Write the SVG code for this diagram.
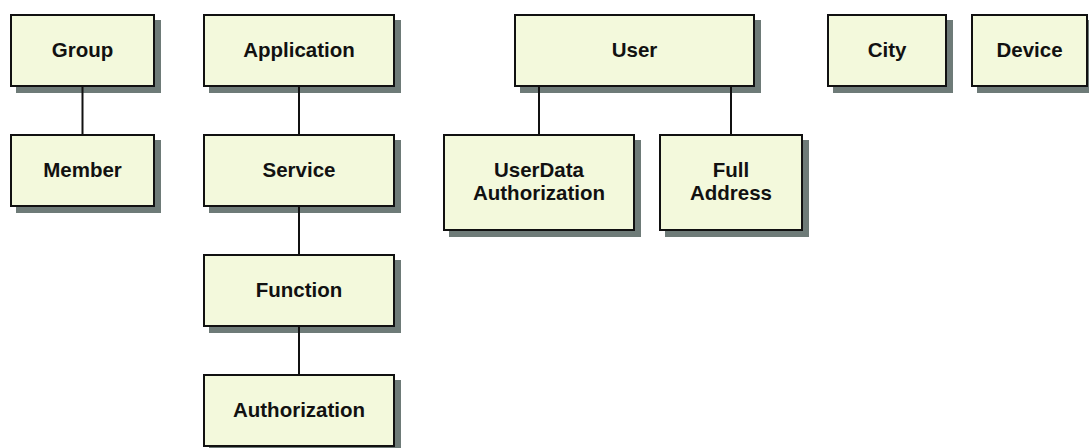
<svg xmlns="http://www.w3.org/2000/svg" width="1089" height="448" viewBox="0 0 1089 448">
  <style>
    .shadow { fill: #6e7b78; }
    .box { fill: #f3f9dc; stroke: #111111; stroke-width: 2; }
    .label { font-family: "Liberation Sans", Arial, sans-serif; font-weight: bold; font-size: 20.5px; fill: #111111; text-anchor: middle; }
    .link { stroke: #111111; stroke-width: 2; fill: none; }
  </style>
  <rect width="1089" height="448" fill="#ffffff"/>

  <g id="group">
    <rect class="shadow" x="16" y="20" width="145" height="73"/>
    <rect class="box" x="11" y="15" width="143" height="71"/>
    <text class="label" x="82.5" y="57">Group</text>
  </g>
  <g id="member">
    <rect class="shadow" x="16" y="140" width="145" height="73"/>
    <rect class="box" x="11" y="135" width="143" height="71"/>
    <text class="label" x="82.5" y="177">Member</text>
  </g>

  <g id="application">
    <rect class="shadow" x="209" y="20" width="192" height="73"/>
    <rect class="box" x="204" y="15" width="190" height="71"/>
    <text class="label" x="299" y="57">Application</text>
  </g>
  <g id="service">
    <rect class="shadow" x="209" y="140" width="192" height="73"/>
    <rect class="box" x="204" y="135" width="190" height="71"/>
    <text class="label" x="299" y="177">Service</text>
  </g>
  <g id="function">
    <rect class="shadow" x="209" y="260" width="192" height="73"/>
    <rect class="box" x="204" y="255" width="190" height="71"/>
    <text class="label" x="299" y="297">Function</text>
  </g>
  <g id="authorization">
    <rect class="shadow" x="209" y="380" width="192" height="73"/>
    <rect class="box" x="204" y="375" width="190" height="71"/>
    <text class="label" x="299" y="417">Authorization</text>
  </g>

  <g id="user">
    <rect class="shadow" x="520" y="20" width="241" height="73"/>
    <rect class="box" x="515" y="15" width="239" height="71"/>
    <text class="label" x="634.5" y="57">User</text>
  </g>
  <g id="userdata-authorization">
    <rect class="shadow" x="449" y="140" width="192" height="97"/>
    <rect class="box" x="444" y="135" width="190" height="95"/>
    <text class="label" x="539" y="177">UserData</text>
    <text class="label" x="539" y="200">Authorization</text>
  </g>
  <g id="full-address">
    <rect class="shadow" x="665" y="140" width="144" height="97"/>
    <rect class="box" x="660" y="135" width="142" height="95"/>
    <text class="label" x="731" y="177">Full</text>
    <text class="label" x="731" y="200">Address</text>
  </g>

  <g id="city">
    <rect class="shadow" x="833" y="20" width="120" height="73"/>
    <rect class="box" x="828" y="15" width="118" height="71"/>
    <text class="label" x="887" y="57">City</text>
  </g>
  <g id="device">
    <rect class="shadow" x="977" y="20" width="117" height="73"/>
    <rect class="box" x="972" y="15" width="115" height="71"/>
    <text class="label" x="1029.5" y="57">Device</text>
  </g>

  <g id="connectors">
    <line class="link" x1="82.5" y1="87" x2="82.5" y2="134"/>
    <line class="link" x1="299" y1="87" x2="299" y2="134"/>
    <line class="link" x1="299" y1="207" x2="299" y2="254"/>
    <line class="link" x1="299" y1="327" x2="299" y2="374"/>
    <line class="link" x1="539" y1="87" x2="539" y2="134"/>
    <line class="link" x1="731" y1="87" x2="731" y2="134"/>
  </g>
</svg>
